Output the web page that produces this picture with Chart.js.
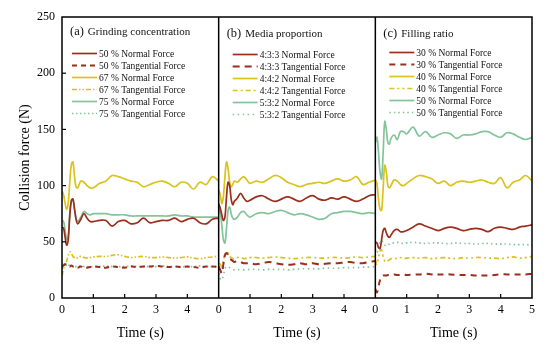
<!DOCTYPE html>
<html>
<head>
<meta charset="utf-8">
<script src="https://cdn.jsdelivr.net/npm/chart.js@4.4.0/dist/chart.umd.min.js"></script>
<style>
  html, body { margin: 0; padding: 0; background: #fff; }
</style>
</head>
<body>
<canvas id="myChart" width="550" height="353"></canvas>
<script>
// sample times (s), shared by every series
var time = [0, 0.05, 0.1, 0.15, 0.2, 0.25, 0.3, 0.35, 0.4, 0.45, 0.5, 0.6, 0.7, 0.8, 0.9, 1.0,
  1.2, 1.4, 1.6, 1.8, 2.0, 2.2, 2.4, 2.6, 2.8, 3.0, 3.2, 3.4, 3.6, 3.8, 4.0, 4.2, 4.4, 4.6, 4.8, 5.0];

// (a) grinding concentration
var grindN50 = [63, 62, 54, 47, 52, 74, 87, 88, 79, 70, 66, 70, 75, 71, 68, 68,
  69, 69, 64, 68, 69, 66, 67, 71, 67, 68, 69, 69, 71, 68, 70, 71, 67, 66, 70, 71];
var grindT50 = [28, 29, 30, 30, 29, 28, 29, 28, 28, 27.5, 27, 28, 27, 27, 27.5, 28,
  27.5, 27, 28, 27.5, 27, 28, 27.5, 28, 28, 28.5, 28, 27.5, 28, 27.5, 28, 27.5, 27, 28, 28, 27.5];
var grindN67 = [95, 92, 84, 79, 85, 104, 119, 121, 108, 99, 98, 104, 103, 100, 98, 98,
  102, 104, 109, 108, 106, 104, 103, 99, 101, 103, 104, 102, 99, 103, 102, 97, 103, 101, 108, 104];
var grindT67 = [20, 26, 30, 33, 38, 41, 40, 37, 36, 35, 36, 37, 36, 35.5, 36, 36.5,
  37, 37, 38, 38.5, 37, 36, 36.5, 37, 36, 36, 36.5, 36, 35.5, 36, 36.5, 35.5, 35, 36, 36.5, 37.5];
var grindN75 = [69, 68, 60, 52, 56, 75, 86, 87, 79, 71, 68, 72, 77, 75, 74, 75,
  75, 75, 74, 74, 74, 73, 73, 73, 73, 73, 73, 73, 74, 73, 73, 72, 72, 72, 72, 72];
var grindT75 = [26, 29, 31, 29, 28, 30, 29, 28, 28, 28, 28, 28.5, 28, 28, 28, 28,
  28, 28.5, 28, 28, 28, 28.5, 28, 28, 28, 28, 28.5, 28, 28, 28, 28, 28, 28.5, 28, 28, 28];

// (b) media proportion
var mediaN433 = [84, 80, 74, 69, 72, 90, 103, 100, 88, 83, 86, 89, 93, 89, 86, 87,
  90, 91, 88, 86, 88, 90, 88, 86, 89, 91, 88, 87, 89, 88, 90, 88, 86, 88, 91, 92];
var mediaT433 = [28, 25, 22, 30, 38, 40, 38, 35, 34, 33, 32, 33, 32, 31, 31, 31,
  30, 31, 32, 31, 30, 29.5, 30, 31, 30, 31, 30, 30.5, 31, 31, 31.5, 32, 31, 31, 32, 33];
var mediaN442 = [96, 92, 84, 90, 108, 121, 115, 103, 99, 101, 104, 103, 106, 108, 105, 102,
  104, 103, 106, 109, 107, 103, 101, 99, 101, 102, 103, 102, 104, 106, 104, 105, 108, 101, 103, 105];
var mediaT442 = [31, 30, 28, 33, 39, 41, 40, 37, 36, 35, 35, 36, 36, 35, 35.5, 36,
  36, 35.5, 36, 36.5, 36, 35.5, 35, 35.5, 36, 36, 35.5, 35.5, 36, 36, 35.5, 36, 36.5, 36, 36.5, 37];
var mediaN532 = [81, 76, 65, 52, 49, 62, 78, 81, 75, 71, 70, 72, 76, 77, 74, 72,
  75, 76, 75, 77, 78, 76, 74, 75, 74, 72, 70, 71, 75, 76, 77, 77, 76, 75, 76, 75];
var mediaT532 = [22, 17, 16, 20, 26, 28, 28, 27, 26, 25, 25, 25, 25.5, 25, 25, 25.5,
  25.5, 25, 25.5, 25.5, 25.5, 25, 25.5, 26, 26, 26, 26, 26.5, 26.5, 26.5, 27, 27, 27, 27.5, 27.5, 28];

// (c) filling ratio
var fillN30 = [50, 49, 45, 44, 52, 60, 62, 58, 55, 54, 56, 60, 61, 59, 59, 60,
  63, 66, 64, 62, 60, 62, 63, 62, 60, 61, 62, 61, 59, 62, 63, 62, 61, 63, 64, 65];
var fillT30 = [8, 5, 10, 16, 19, 20, 20, 20, 20.5, 20.5, 20.5, 21, 20.5, 20.5, 21, 20.5,
  21, 21, 21.5, 21, 21, 21, 21, 20.5, 20.5, 20.5, 20, 20, 20, 20.5, 21, 21, 21, 21, 21, 21.5];
var fillN40 = [105, 102, 88, 79, 78, 98, 118, 112, 100, 98, 100, 105, 104, 101, 100, 102,
  106, 109, 108, 106, 102, 104, 100, 103, 104, 103, 104, 105, 103, 102, 107, 98, 103, 105, 109, 104];
var fillT40 = [34, 30, 36, 42, 43, 37, 33, 32, 33, 34, 35, 35, 35.5, 36, 35, 35.5,
  36, 35.5, 36, 35, 35.5, 36, 35.5, 35, 36, 35.5, 36, 36, 35.5, 35.5, 35, 36, 36.5, 35.5, 36, 37];
var fillN50 = [138, 143, 130, 112, 106, 130, 157, 150, 138, 137, 142, 145, 141, 148, 148, 146,
  152, 144, 148, 143, 145, 147, 146, 142, 145, 145, 146, 148, 148, 145, 143, 147, 146, 143, 141, 143];
var fillT50 = [43, 40, 45, 50, 51, 49, 47, 47, 48, 48, 49, 49, 49.5, 49, 48.5, 49,
  49.5, 49, 48.5, 49, 49, 48.5, 48.5, 49, 48.5, 48.5, 48, 48.5, 48.5, 48, 48, 48, 47.5, 47.5, 47.5, 47];

var panelTags = ['(a)', '(b)', '(c)'];
var panelTitles = ['Grinding concentration', 'Media proportion', 'Filling ratio'];
var seriesNames = [
  ['50 % Normal Force', '50 % Tangential Force', '67 % Normal Force', '67 % Tangential Force', '75 % Normal Force', '75 % Tangential Force'],
  ['4:3:3 Normal Force', '4:3:3 Tangential Force', '4:4:2 Normal Force', '4:4:2 Tangential Force', '5:3:2 Normal Force', '5:3:2 Tangential Force'],
  ['30 % Normal Force', '30 % Tangential Force', '40 % Normal Force', '40 % Tangential Force', '50 % Normal Force', '50 % Tangential Force']
];
var panelValues = [
  [grindN50, grindT50, grindN67, grindT67, grindN75, grindT75],
  [mediaN433, mediaT433, mediaN442, mediaT442, mediaN532, mediaT532],
  [fillN30, fillT30, fillN40, fillT40, fillN50, fillT50]
];
var yTicks = [0, 50, 100, 150, 200, 250];

var colors = ['#9a2f1c', '#d9c31c', '#85c49b'];
// dash patterns for the tangential lines of each panel (brown, yellow, green)
var dashes = [
  [[5, 4], [5, 2, 1.5, 2, 1.5, 2], [1.5, 2.5]],
  [[7, 5], [5, 3, 2, 3], [1.5, 3.5]],
  [[6, 5], [5, 3, 2, 3, 2, 3], [1.5, 3]]
];

var datasets = [];
panelValues.forEach(function (list, p) {
  list.forEach(function (vals, i) {
    var c = Math.floor(i / 2), tang = i % 2 == 1;
    datasets.push({
      label: seriesNames[p][i],
      panel: p,
      data: vals.map(function (v, k) { return { x: time[k] + 5 * p, y: v }; }),
      borderColor: colors[c],
      borderWidth: tang ? (c == 0 ? 2 : 1.7) : 1.7,
      borderDash: tang ? dashes[p][c] : [],
      pointRadius: 0,
      tension: 0.4,
      fill: false
    });
  });
});

function seg(ctx, x1, y1, x2, y2) {
  ctx.beginPath(); ctx.moveTo(x1, y1); ctx.lineTo(x2, y2); ctx.stroke();
}

var framePlugin = {
  id: 'frame',
  afterDatasetsDraw: function (chart) {
    var ctx = chart.ctx, a = chart.chartArea, xs = chart.scales.x, ys = chart.scales.y;
    ctx.save();
    ctx.strokeStyle = '#000';
    ctx.lineWidth = 1.5;
    ctx.strokeRect(a.left, a.top, a.right - a.left, a.bottom - a.top);
    [5, 10].forEach(function (v) {
      var px = xs.getPixelForValue(v);
      seg(ctx, px, a.top, px, a.bottom);
    });
    ctx.lineWidth = 1.2;
    for (var v = 1; v < 15; v++) {
      if (v % 5 == 0) continue;
      var px = xs.getPixelForValue(v);
      seg(ctx, px, a.bottom, px, a.bottom - 4);
    }
    yTicks.forEach(function (t) {
      if (t == 0 || t == 250) return;
      var py = ys.getPixelForValue(t);
      seg(ctx, a.left, py, a.left + 4, py);
    });
    ctx.restore();
  },
  afterDraw: function (chart) {
    var ctx = chart.ctx, a = chart.chartArea, xs = chart.scales.x;
    ctx.save();
    ctx.fillStyle = '#111';
    ctx.textBaseline = 'middle';
    var titleY = [32, 34, 34];
    var rowY = [53.5, 54.5, 52.5];
    for (var p = 0; p < 3; p++) {
      var x0 = xs.getPixelForValue(5 * p);
      ctx.font = '12.5px "Liberation Serif"';
      ctx.textAlign = 'left';
      ctx.fillText(panelTags[p], x0 + 8, titleY[p]);
      var tw = ctx.measureText(panelTags[p]).width;
      ctx.font = '11px "Liberation Serif"';
      ctx.fillText(panelTitles[p], x0 + 12 + tw, titleY[p]);

      // legend rows
      ctx.font = '9.5px "Liberation Serif"';
      var lx = x0 + (p == 0 ? 10 : 14);
      for (var i = 0; i < 6; i++) {
        var ds = datasets[p * 6 + i];
        var y = rowY[p] + i * 12;
        ctx.strokeStyle = ds.borderColor;
        ctx.lineWidth = ds.borderWidth;
        ctx.setLineDash(ds.borderDash);
        seg(ctx, lx, y, lx + 25, y);
        ctx.setLineDash([]);
        ctx.fillText(ds.label, lx + 27, y + 0.5);
      }

      // x axis title of the panel
      ctx.font = '14px "Liberation Serif"';
      ctx.textAlign = 'center';
      ctx.fillStyle = '#000';
      ctx.fillText('Time (s)', (x0 + xs.getPixelForValue(5 * p + 5)) / 2, 333);
      ctx.fillStyle = '#111';
    }
    // y axis title
    ctx.translate(25, (a.top + a.bottom) / 2);
    ctx.rotate(-Math.PI / 2);
    ctx.textAlign = 'center';
    ctx.fillStyle = '#000';
    ctx.font = '14px "Liberation Serif"';
    ctx.fillText('Collision force (N)', 0, 0);
    ctx.restore();
  }
};

var ctx = document.getElementById('myChart').getContext('2d');
var chart = new Chart(ctx, {
  type: 'line',
  data: { datasets: datasets },
  options: {
    responsive: false,
    animation: false,
    layout: { padding: { top: 17, right: 18, left: 0, bottom: 0 } },
    plugins: { legend: { display: false }, tooltip: { enabled: false } },
    scales: {
      x: {
        type: 'linear',
        min: 0, max: 15,
        grid: { display: false, drawTicks: false },
        border: { display: false },
        ticks: {
          stepSize: 1, autoSkip: false, maxRotation: 0, padding: 5,
          color: '#000', font: { family: 'Liberation Serif', size: 12 },
          callback: function (v) { return v == 15 ? '5' : String(v % 5); }
        },
        afterFit: function (s) { s.height = 55; }
      },
      y: {
        min: 0, max: 250,
        grid: { display: false, drawTicks: false },
        border: { display: false },
        ticks: {
          stepSize: 50, padding: 7,
          color: '#000', font: { family: 'Liberation Serif', size: 12 }
        },
        afterFit: function (s) { s.width = 62; }
      }
    }
  },
  plugins: [framePlugin]
});
</script>
</body>
</html>
